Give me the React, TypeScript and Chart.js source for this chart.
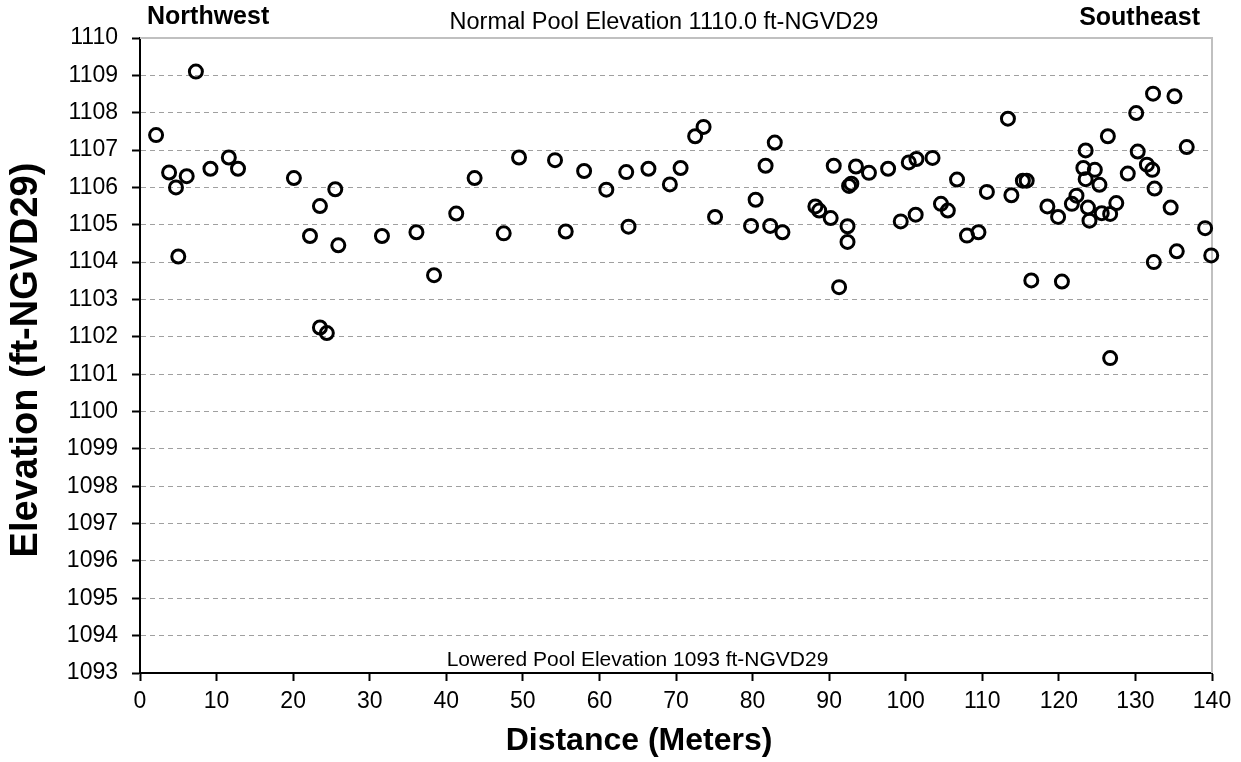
import React, { useEffect, useRef } from "react";
import { Chart, registerables } from "chart.js";

Chart.register(...registerables);

const distance: number[] = [
  2.1, 3.8, 4.7, 5.0, 6.1, 7.3, 9.2, 11.6, 12.8, 20.1,
  22.2, 23.5, 23.5, 24.4, 25.5, 25.9, 31.6, 36.1, 38.4, 41.3,
  43.7, 47.5, 49.5, 54.2, 55.6, 58.0, 60.9, 63.5, 63.8, 66.4,
  69.2, 70.6, 72.5, 73.6, 75.1, 79.8, 80.4, 81.7, 82.3, 82.9,
  83.9, 88.2, 88.7, 90.2, 90.6, 91.3, 92.4, 92.4, 92.6, 92.9,
  93.5, 95.2, 97.7, 99.35, 100.4, 101.4, 101.3, 103.5, 104.6, 105.5,
  106.7, 108.0, 109.5, 110.6, 113.35, 113.8, 115.3, 115.8, 116.4, 118.5,
  119.9, 120.4, 121.7, 122.3, 123.5, 123.2, 123.5, 124.7, 125.3, 123.8,
  124.0, 125.6, 126.7, 127.5, 126.4, 126.7, 129.0, 130.1, 130.3, 131.5,
  132.2, 132.3, 132.5, 132.4, 134.6, 135.1, 135.4, 136.7, 139.1, 139.9,
];

const elevation: number[] = [
  1107.4, 1106.4, 1106.0, 1104.15, 1106.3, 1109.1, 1106.5, 1106.8, 1106.5, 1106.25,
  1104.7, 1105.5, 1102.25, 1102.1, 1105.95, 1104.45, 1104.7, 1104.8, 1103.65, 1105.3,
  1106.25, 1104.77, 1106.8, 1106.73, 1104.82, 1106.44, 1105.94, 1106.41, 1104.95, 1106.5,
  1106.08, 1106.52, 1107.37, 1107.62, 1105.21, 1104.97, 1105.67, 1106.58, 1104.97, 1107.2,
  1104.8, 1105.49, 1105.38, 1105.18, 1106.58, 1103.33, 1104.96, 1104.54, 1106.04, 1106.1,
  1106.56, 1106.39, 1106.5, 1105.09, 1106.67, 1106.76, 1105.27, 1106.79, 1105.56, 1105.38,
  1106.21, 1104.71, 1104.8, 1105.88, 1107.84, 1105.79, 1106.18, 1106.18, 1103.51, 1105.49,
  1105.21, 1103.48, 1105.56, 1105.78, 1106.99, 1106.52, 1106.22, 1106.47, 1106.07, 1105.46,
  1105.11, 1105.31, 1105.29, 1105.58, 1107.37, 1101.43, 1106.37, 1107.99, 1106.96, 1106.61,
  1106.47, 1108.51, 1105.97, 1104.0, 1105.46, 1108.44, 1104.29, 1107.08, 1104.91, 1104.18,
];

const xMin = 0;
const xMax = 140;
const xStep = 10;
const yMin = 1093;
const yMax = 1110;
const yStep = 1;

const xTitle = "Distance (Meters)";
const yTitle = "Elevation (ft-NGVD29)";
const topLeftLabel = "Northwest";
const topRightLabel = "Southeast";
const normalPoolLabel = "Normal Pool Elevation 1110.0 ft-NGVD29";
const loweredPoolLabel = "Lowered Pool Elevation 1093 ft-NGVD29";

const FONT = "'Liberation Sans', Arial, Helvetica, sans-serif";

const textPlugin = {
  id: "annotText",
  beforeDatasetsDraw(chart: any) {
    const { ctx, chartArea } = chart;
    ctx.save();
    ctx.strokeStyle = "#c0c0c0";
    ctx.lineWidth = 2;
    ctx.setLineDash([]);
    ctx.beginPath();
    ctx.moveTo(chartArea.left, chartArea.top);
    ctx.lineTo(chartArea.right, chartArea.top);
    ctx.lineTo(chartArea.right, chartArea.bottom);
    ctx.stroke();
    ctx.restore();
  },
  afterDraw(chart: any) {
    const { ctx, chartArea } = chart;
    const xs = chart.scales.x;
    ctx.save();
    ctx.fillStyle = "#000";
    ctx.textBaseline = "middle";

    ctx.font = `bold 25px ${FONT}`;
    ctx.textAlign = "left";
    ctx.fillText(topLeftLabel, 147, 17);
    ctx.textAlign = "right";
    ctx.fillText(topRightLabel, 1200, 18);

    ctx.font = `23.5px ${FONT}`;
    ctx.textAlign = "center";
    ctx.fillText(normalPoolLabel, 664, 23);

    ctx.font = `21px ${FONT}`;
    ctx.fillText(loweredPoolLabel, 637.5, 660);

    ctx.font = `bold 32px ${FONT}`;
    ctx.fillText(xTitle, (xs.left + xs.right) / 2 - 37, 741);

    ctx.translate(27, 360);
    ctx.rotate(-Math.PI / 2);
    ctx.font = `bold 38px ${FONT}`;
    ctx.fillText(yTitle, 0, 0);
    ctx.restore();
  },
};

export default function App() {
  const ref = useRef<HTMLCanvasElement | null>(null);

  useEffect(() => {
    const canvas = ref.current;
    if (!canvas) return;
    const points = distance.map((d, i) => ({ x: d, y: elevation[i] }));
    const chart = new Chart(canvas, {
      type: "scatter",
      data: {
        datasets: [
          {
            data: points,
            pointStyle: "circle",
            pointRadius: 6.5,
            pointHoverRadius: 6.5,
            pointBorderWidth: 3,
            borderColor: "#000",
            backgroundColor: "rgba(0,0,0,0)",
            clip: false as any,
          },
        ],
      },
      options: {
        responsive: false,
        animation: false,
        events: [],
        layout: { padding: { top: 38, right: 29, left: 0, bottom: 0 } },
        plugins: {
          legend: { display: false },
          tooltip: { enabled: false },
          title: { display: false },
        },
        scales: {
          x: {
            type: "linear",
            min: xMin,
            max: xMax,
            afterFit: (s: any) => {
              s.height = 89;
            },
            ticks: {
              stepSize: xStep,
              color: "#000",
              font: { family: FONT, size: 23 },
              padding: 7,
              maxRotation: 0,
              autoSkip: false,
            },
            grid: {
              drawOnChartArea: false,
              drawTicks: true,
              tickLength: 8,
              tickColor: "#000",
              tickWidth: 2,
            },
            border: { display: true, color: "#000", width: 2 },
          },
          y: {
            type: "linear",
            min: yMin,
            max: yMax,
            afterFit: (s: any) => {
              s.width = 140;
            },
            ticks: {
              stepSize: yStep,
              color: "#000",
              font: { family: FONT, size: 23 },
              padding: 14,
              autoSkip: false,
              callback: (v: any) => String(v),
            },
            grid: {
              drawOnChartArea: true,
              drawTicks: true,
              tickLength: 8,
              tickColor: "#000",
              tickWidth: 2,
              lineWidth: 1,
              color: (c: any) =>
                c.tick && (c.tick.value === yMax || c.tick.value === yMin)
                  ? "rgba(0,0,0,0)"
                  : "#a0a0a0",
            },
            border: { display: true, color: "#000", width: 2, dash: [5, 4] },
          },
        },
      },
      plugins: [textPlugin],
    });
    return () => chart.destroy();
  }, []);

  return (
    <div style={{ position: "fixed", left: 0, top: 0, width: 1241, height: 762, background: "#fff" }}>
      <canvas ref={ref} width={1241} height={762} style={{ display: "block" }} />
    </div>
  );
}
